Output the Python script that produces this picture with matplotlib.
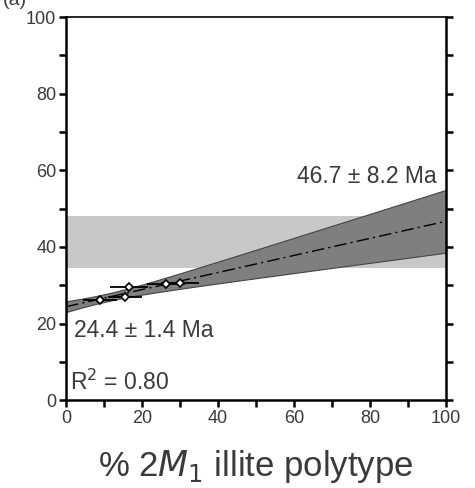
import matplotlib
matplotlib.use('Agg')
import matplotlib.pyplot as plt
import numpy as np

# illite age analysis data
pct_2m1 = [8.9, 15.5, 16.6, 26.3, 30.0]
pct_err = [4.5, 4.5, 5.0, 5.0, 5.0]
age_ma = [26.1, 27.0, 29.5, 30.3, 30.5]

age_0 = 24.4       # intercept at 0 % 2M1
age_0_err = 1.4
age_100 = 46.7     # extrapolated at 100 % 2M1
age_100_err = 8.2
r2 = 0.80

detrital_band = [34.5, 48.2]

plt.rcParams['font.family'] = ['Liberation Sans', 'DejaVu Sans']
txt_col = '#3a3a3a'

fig = plt.figure(figsize=(4.75, 4.88), dpi=100)
ax = fig.add_axes([0.139, 0.180, 0.800, 0.785])

# detrital age range
ax.axhspan(detrital_band[0], detrital_band[1], color='#c8c8c8', lw=0, zorder=1)

# regression line and confidence envelope
xx = np.linspace(0, 100, 201)
yy = age_0 + (age_100 - age_0) * xx / 100.0
h0 = 1.0
xm = 100.0 / (1 + np.sqrt((age_100_err**2 - h0**2) / (age_0_err**2 - h0**2)))
b = (age_0_err**2 - h0**2) / xm**2
hw = np.sqrt(h0**2 + b * (xx - xm)**2)
ax.fill_between(xx, yy - hw, yy + hw, facecolor='#7f7f7f', edgecolor='#444444', lw=0.8, zorder=2)
ax.plot(xx, yy, color='black', lw=1.0, ls=(0, (9, 3, 1.5, 3)), zorder=3)

ax.errorbar(pct_2m1, age_ma, xerr=pct_err, fmt='D', ms=4.2, mfc='white', mec='black',
            mew=1.2, ecolor='black', elinewidth=1.3, capsize=0, zorder=4)

ax.text(97.5, 55.3, '%.1f ± %.1f Ma' % (age_100, age_100_err), ha='right', va='bottom',
        fontsize=16.5, color=txt_col)
ax.text(2, 15.3, '%.1f ± %.1f Ma' % (age_0, age_0_err), ha='left', va='bottom',
        fontsize=16.5, color=txt_col)
ax.text(1, 1.5, 'R$^2$ = %.2f' % r2, ha='left', va='bottom', fontsize=16.5, color=txt_col)

ax.set_xlim(0, 100)
ax.set_ylim(0, 100)
ax.set_xticks(np.arange(0, 101, 20))
ax.set_xticks(np.arange(10, 100, 20), minor=True)
ax.set_yticks(np.arange(0, 101, 20))
ax.set_yticks(np.arange(10, 100, 20), minor=True)
ax.tick_params(which='both', direction='out', length=5, width=1.8, labelsize=13,
               labelcolor=txt_col, pad=2)
ax.tick_params(axis='y', which='both', right=True)
for s in ax.spines.values():
    s.set_linewidth(1.8)
ax.spines['top'].set_linewidth(1.2)

ax.set_xlabel('% 2$\\mathit{M}_1$ illite polytype', fontsize=25, color=txt_col, labelpad=15)

fig.text(0.005, 0.999, '(a)', fontsize=14, color=txt_col, va='center')

fig.savefig('out.png', dpi=100)
